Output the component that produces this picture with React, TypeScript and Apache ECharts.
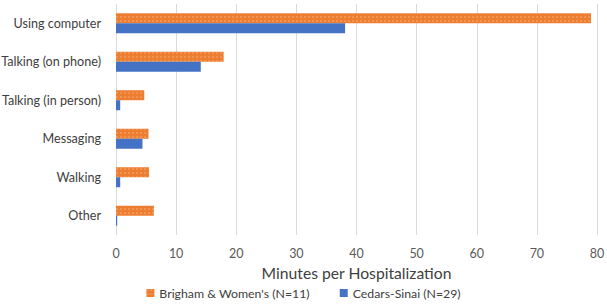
import React, { useEffect, useRef } from "react";
import * as echarts from "echarts";

const categories = [
  "Using computer",
  "Talking (on phone)",
  "Talking (in person)",
  "Messaging",
  "Walking",
  "Other",
];
const brighamValues = [79.0, 17.9, 4.7, 5.4, 5.5, 6.3];
const cedarsValues = [38.1, 14.1, 0.7, 4.4, 0.7, 0.2];
const seriesNames = ["Brigham & Women's (N=11)", "Cedars-Sinai (N=29)"];
const xTicks = { min: 0, max: 80, interval: 10 };
const axisTitle = "Minutes per Hospitalization";

export default function App() {
  const ref = useRef<HTMLDivElement>(null);
  useEffect(() => {
    if (!ref.current) return;
    const chart = echarts.init(ref.current, undefined, { renderer: "svg" });
    const font = "Lato, sans-serif";
    chart.setOption({
      animation: false,
      textStyle: { fontFamily: font },
      grid: { left: 116, right: 10, top: 4, bottom: 70, containLabel: false, outerBoundsMode: "none" },
      legend: {
        bottom: 1,
        left: "center",
        itemWidth: 8,
        itemHeight: 8,
        itemGap: 30,
        icon: "rect",
        textStyle: { fontSize: 12.3, color: "#404040", fontFamily: font },
        data: seriesNames,
      },
      xAxis: {
        type: "value",
        min: xTicks.min,
        max: xTicks.max,
        interval: xTicks.interval,
        name: axisTitle,
        nameLocation: "middle",
        nameGap: 26,
        nameTextStyle: { fontSize: 15.7, color: "#404040", fontFamily: font },
        axisLine: { show: false },
        axisTick: { show: false },
        axisLabel: { fontSize: 12.5, color: "#595959", margin: 12 },
        splitLine: { show: true, lineStyle: { color: "#d9d9d9", width: 1 } },
      },
      yAxis: {
        type: "category",
        data: categories,
        inverse: true,
        axisLine: { show: false },
        axisTick: { show: false },
        axisLabel: { fontSize: 12.6, color: "#404040", margin: 15 },
        splitLine: { show: false },
      },
      series: [
        {
          name: seriesNames[0],
          type: "bar",
          data: brighamValues,
          barWidth: 10,
          barGap: "0%",
          itemStyle: {
            color: "#ED7D31",
            decal: {
              symbol: "circle",
              symbolSize: 0.6,
              color: "rgba(255,220,190,0.7)",
              dashArrayX: [[2, 2]],
              dashArrayY: [2, 2],
              rotation: 0,
            },
          },
        },
        {
          name: seriesNames[1],
          type: "bar",
          data: cedarsValues,
          barWidth: 10,
          barGap: "0%",
          itemStyle: { color: "#4472C4" },
        },
      ],
    });
    return () => chart.dispose();
  }, []);
  return (
    <div
      ref={ref}
      style={{ position: "fixed", left: 0, top: 0, width: 607, height: 305, background: "#fff" }}
    />
  );
}
